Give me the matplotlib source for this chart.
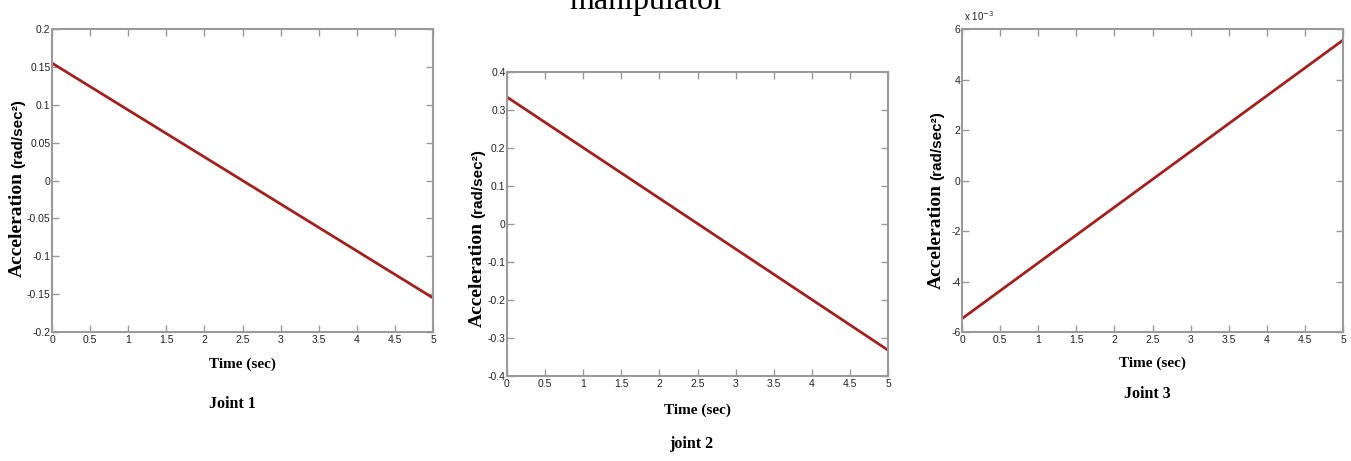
import matplotlib
matplotlib.use('Agg')
import matplotlib.pyplot as plt
from matplotlib.ticker import FuncFormatter, MultipleLocator

# joint accelerations (rad/sec^2) against time (sec)
time = [0, 5]
joint1 = [0.155, -0.155]
joint2 = [0.334, -0.332]
joint3 = [-0.00547, 0.00556]

captions = ['Joint 1', 'joint 2', 'Joint 3']
ylims = [(-0.2, 0.2), (-0.4, 0.4), (-0.006, 0.006)]
ysteps = [0.05, 0.1, 0.002]
yscale = [1, 1, 1e3]

W, H = 1351, 461
fig = plt.figure(figsize=(W / 100, H / 100), dpi=100)

def fx(px):
    return px / W

def fy(py):
    return 1 - py / H

# axes boxes in pixels: left, top, right, bottom
boxes = [(52, 29, 433, 332), (507, 72, 888, 376), (962, 29, 1343, 332)]
# ylabel x and vertical centre of the two-part label
ylab = [(17, 188), (477, 238), (936, 200)]
xlab_y = [364, 410, 363]
cap_pos = [(232, 404), (691, 444), (1147, 394)]

tick_family = ['Liberation Sans', 'DejaVu Sans']
edge = '#9a9a9a'

fig.text(fx(647), fy(9), 'manipulator', family='Liberation Serif', size=23,
         ha='center', va='baseline')

renderer = fig.canvas.get_renderer()
gap = 4

for i, data in enumerate([joint1, joint2, joint3]):
    l, t, r, b = boxes[i]
    ax = fig.add_axes([fx(l), fy(b), fx(r - l), (b - t) / H])
    ax.plot(time, data, color='#a3201d', lw=2.0, solid_capstyle='butt')
    ax.set_xlim(0, 5)
    ax.set_ylim(*ylims[i])
    ax.xaxis.set_major_locator(MultipleLocator(0.5))
    ax.yaxis.set_major_locator(MultipleLocator(ysteps[i]))
    s = yscale[i]
    ax.yaxis.set_major_formatter(FuncFormatter(lambda v, p, s=s: f"{round(v * s, 6):g}"))
    ax.xaxis.set_major_formatter(FuncFormatter(lambda v, p: f"{round(v, 6):g}"))
    ax.tick_params(direction='in', length=5, width=1, color=edge,
                   top=True, right=True, pad=2, labelcolor='#222222')
    ax.tick_params(axis='y', pad=1)
    for lab in ax.get_xticklabels() + ax.get_yticklabels():
        lab.set_fontfamily(tick_family)
        lab.set_fontsize(7.5)
    for sp in ax.spines.values():
        sp.set_color(edge)
        sp.set_linewidth(1.5)

    # y label: serif word followed by sans units, stacked along the axis
    x, yc = ylab[i]
    acc = fig.text(fx(x), 0, 'Acceleration', family='Liberation Serif',
                   weight='bold', size=14, rotation=90, ha='center', va='bottom')
    unit = fig.text(fx(x + 1), 0, '(rad/sec²)', family='Liberation Sans',
                    weight='bold', size=11, rotation=90, ha='center', va='bottom')
    ha_ = acc.get_window_extent(renderer).height
    hu = unit.get_window_extent(renderer).height
    bottom = yc + (ha_ + gap + hu) / 2
    acc.set_y(fy(bottom))
    unit.set_y(fy(bottom - ha_ - gap))

    fig.text(fx((l + r) / 2), fy(xlab_y[i]), 'Time (sec)', family='Liberation Serif',
             weight='bold', size=11, ha='center', va='center')
    cx, cy = cap_pos[i]
    fig.text(fx(cx), fy(cy), captions[i], family='Liberation Serif',
             weight='bold', size=11.5, ha='center', va='center')

# exponent marker for the third panel
fig.text(fx(964), fy(21), r'x 10$^{-3}$', family=tick_family,
         size=7, ha='left', va='baseline', color='#222222')

fig.savefig('out.png', dpi=100)
